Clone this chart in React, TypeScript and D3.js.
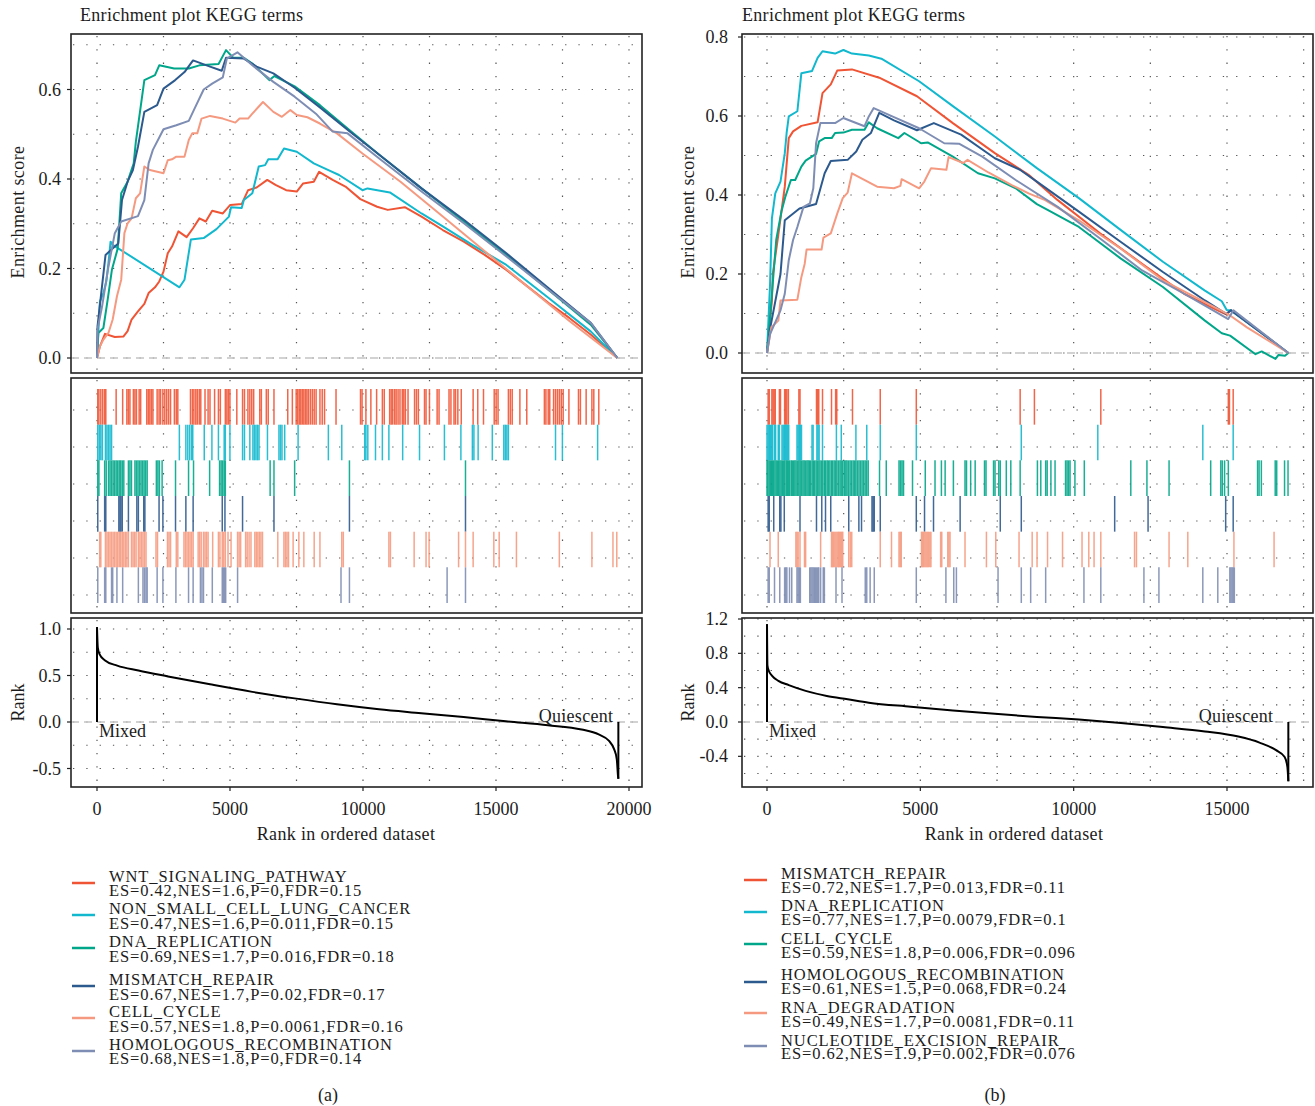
import React from 'react';
import * as d3 from 'd3';

type Pt = [number, number];

// ======================= Panel (a) data =======================
const namesA = ['WNT_SIGNALING_PATHWAY', 'NON_SMALL_CELL_LUNG_CANCER', 'DNA_REPLICATION', 'MISMATCH_REPAIR', 'CELL_CYCLE', 'HOMOLOGOUS_RECOMBINATION'];
const statsA = ['ES=0.42,NES=1.6,P=0,FDR=0.15', 'ES=0.47,NES=1.6,P=0.011,FDR=0.15', 'ES=0.69,NES=1.7,P=0.016,FDR=0.18', 'ES=0.67,NES=1.7,P=0.02,FDR=0.17', 'ES=0.57,NES=1.8,P=0.0061,FDR=0.16', 'ES=0.68,NES=1.8,P=0,FDR=0.14'];
const totalA = 19600;

const esA_wnt: Pt[] = [[0,0],[110,0.026],[300,0.054],[670,0.047],[990,0.048],[1150,0.06],[1300,0.086],[1540,0.104],[1780,0.121],[1940,0.145],[2180,0.158],[2340,0.171],[2500,0.193],[2660,0.234],[2820,0.249],[3060,0.283],[3370,0.27],[3610,0.29],[3850,0.312],[4090,0.305],[4330,0.329],[4730,0.323],[5010,0.342],[5440,0.344],[5680,0.375],[6000,0.381],[6400,0.398],[6710,0.387],[7110,0.375],[7510,0.372],[7750,0.39],[8150,0.394],[8350,0.416],[8860,0.398],[9340,0.383],[9900,0.355],[10530,0.338],[10930,0.331],[11570,0.337],[12200,0.316],[13000,0.286],[13790,0.26],[14590,0.23],[15390,0.197],[16180,0.16],[16980,0.123],[17770,0.089],[18570,0.052],[19560,0]];
const esA_nsclc: Pt[] = [[0,0],[110,0.126],[240,0.145],[350,0.171],[430,0.212],[510,0.26],[590,0.253],[3100,0.158],[3290,0.175],[3530,0.265],[4010,0.268],[4490,0.288],[4960,0.316],[5040,0.337],[5440,0.335],[5520,0.353],[5840,0.368],[6080,0.428],[6320,0.431],[6440,0.444],[6790,0.444],[7030,0.468],[7510,0.461],[8150,0.435],[8700,0.42],[9100,0.409],[9980,0.375],[10170,0.379],[11010,0.37],[12200,0.323],[13000,0.294],[14110,0.253],[15390,0.208],[16980,0.134],[18570,0.059],[19560,0]];
const esA_dna: Pt[] = [[0,0],[50,0.056],[240,0.067],[400,0.13],[560,0.197],[780,0.245],[910,0.368],[1150,0.394],[1380,0.435],[1460,0.483],[1780,0.621],[2180,0.632],[2340,0.654],[2900,0.647],[3450,0.647],[3850,0.654],[4570,0.657],[4850,0.688],[5120,0.671],[5520,0.671],[5840,0.658],[6480,0.621],[6670,0.63],[7430,0.607],[8380,0.565],[9500,0.509],[10610,0.454],[12200,0.379],[13790,0.305],[15390,0.23],[16980,0.152],[18570,0.074],[19560,0]];
const esA_mmr: Pt[] = [[0,0],[20,0.071],[320,0.23],[670,0.249],[800,0.256],[940,0.353],[1150,0.394],[1350,0.42],[1540,0.472],[1780,0.55],[2260,0.565],[2500,0.602],[2940,0.621],[3290,0.639],[3610,0.665],[4250,0.651],[4690,0.642],[4850,0.671],[5520,0.669],[6000,0.651],[6630,0.636],[7430,0.604],[8380,0.56],[9500,0.506],[10610,0.454],[12200,0.379],[13790,0.309],[15390,0.234],[16980,0.156],[18570,0.078],[19560,0]];
const esA_cc: Pt[] = [[0,0],[110,0.026],[240,0.041],[430,0.056],[590,0.086],[750,0.138],[910,0.175],[1030,0.279],[1150,0.301],[1300,0.312],[1460,0.357],[1620,0.368],[1780,0.428],[1990,0.42],[2500,0.413],[2660,0.442],[2820,0.444],[2980,0.45],[3290,0.45],[3450,0.487],[3580,0.502],[3770,0.502],[3930,0.535],[4250,0.541],[4730,0.535],[5200,0.526],[5360,0.535],[5680,0.535],[5840,0.546],[6240,0.572],[6630,0.55],[6950,0.539],[7270,0.554],[7510,0.543],[7910,0.538],[8380,0.524],[9020,0.502],[9980,0.457],[11410,0.394],[13000,0.316],[14590,0.238],[16180,0.16],[17770,0.082],[19560,0]];
const esA_hr: Pt[] = [[0,0],[30,0.067],[190,0.115],[430,0.204],[670,0.279],[910,0.305],[1540,0.317],[1780,0.353],[1940,0.435],[2100,0.465],[2500,0.511],[2980,0.52],[3450,0.53],[3640,0.554],[4010,0.6],[4330,0.613],[4730,0.627],[4880,0.669],[5280,0.683],[5840,0.654],[6630,0.617],[7430,0.584],[8230,0.546],[8860,0.506],[9420,0.502],[10610,0.446],[12200,0.372],[13790,0.301],[15390,0.227],[16980,0.152],[18570,0.078],[19560,0]];

const hitsA_wnt = [29,72,144,216,288,331,720,965,1123,1181,1238,1368,1426,1483,1584,1642,1872,1930,1987,2045,2102,2261,2333,2390,2477,2549,2621,2693,2765,2909,2981,3038,3514,3586,3643,3715,3773,3845,3902,4061,4176,4248,4421,4565,4637,4824,4882,4939,4997,5256,5472,5544,5674,5746,5818,5890,6120,6178,6365,6437,6653,7171,7344,7488,7546,7603,7661,7718,7776,7834,7891,7949,8021,8093,8165,8237,8381,8467,8554,8986,9907,9965,10109,10296,10512,10728,10800,11002,11059,11117,11189,11246,11318,11390,11477,11534,11592,11693,11938,12010,12082,12312,12370,12499,12787,12859,13234,13306,13421,13478,13565,13694,14141,14314,14530,14933,15005,15077,15466,15538,15610,15898,16157,16819,16877,16963,17021,17165,17237,17309,17381,17453,17525,17741,18101,18173,18389,18605,18677,18864];
const hitsA_nsclc = [29,86,144,202,317,374,432,490,547,3096,3341,3413,3485,3557,3600,4032,4320,4565,4781,4824,4997,5472,5544,5746,5861,5918,5976,6034,6091,6408,6840,6898,6955,7056,7560,8698,9202,10066,10109,10181,10469,10728,10973,11491,12125,13061,13680,14112,14170,14328,14861,15293,15350,15408,15466,17237,17496,18821];
const hitsA_dna = [29,72,288,346,432,490,547,605,662,720,778,835,893,950,1008,1181,1238,1296,1426,1483,1541,1598,1656,1714,1771,1829,1886,2232,2290,2347,2448,2952,3442,3629,4234,4608,4666,4723,4781,4824,6509,6653,7430,9490,13853];
const hitsA_mmr = [29,288,331,821,864,902,950,1181,1498,1555,1757,1800,2333,2477,2952,3341,3614,4709,4810,5472,6653,9490,13853];
const hitsA_cc = [101,144,317,374,432,490,547,605,662,720,778,835,893,950,1008,1066,1123,1181,1296,1354,1411,1469,1555,1613,1670,1728,1786,1843,2218,2275,2650,2707,2765,2981,3038,3269,3326,3384,3442,3499,3557,3614,3802,3859,3917,4003,4061,4118,4176,4349,4565,4622,4709,4766,4824,4925,5040,5285,5342,5400,5587,5645,5717,5789,5933,5990,6048,6106,6163,6221,6797,7027,7085,7142,7200,7373,7589,7776,8165,8381,9202,9259,10973,11030,11923,12370,12485,13594,13853,14141,14918,15120,15768,17381,18605,19397,19541];
const hitsA_hr = [29,288,331,547,590,749,965,1555,1728,1786,1843,1886,2261,2477,2966,3442,3614,3888,3946,4003,4334,4709,4752,4795,4838,5285,9173,9490,13162,13853];

const rankA: Pt[] = [[0,1.02],[30,0.8],[95,0.73],[290,0.665],[760,0.606],[1560,0.553],[2670,0.49],[4250,0.405],[5840,0.324],[7430,0.254],[9020,0.19],[10600,0.137],[12190,0.095],[13780,0.053],[15370,0.007],[16950,-0.035],[18220,-0.081],[18860,-0.134],[19250,-0.204],[19440,-0.292],[19540,-0.398],[19590,-0.59],[19600,-0.61]];

// ======================= Panel (b) data =======================
const namesB = ['MISMATCH_REPAIR', 'DNA_REPLICATION', 'CELL_CYCLE', 'HOMOLOGOUS_RECOMBINATION', 'RNA_DEGRADATION', 'NUCLEOTIDE_EXCISION_REPAIR'];
const statsB = ['ES=0.72,NES=1.7,P=0.013,FDR=0.11', 'ES=0.77,NES=1.7,P=0.0079,FDR=0.1', 'ES=0.59,NES=1.8,P=0.006,FDR=0.096', 'ES=0.61,NES=1.5,P=0.068,FDR=0.24', 'ES=0.49,NES=1.7,P=0.0081,FDR=0.11', 'ES=0.62,NES=1.9,P=0.002,FDR=0.076'];
const totalB = 17000;

const esB_mmr: Pt[] = [[0,0],[160,0.133],[190,0.2],[370,0.3],[580,0.421],[710,0.544],[850,0.561],[1120,0.575],[1650,0.584],[1810,0.658],[2080,0.68],[2290,0.715],[2770,0.718],[3660,0.697],[4890,0.65],[6060,0.582],[7430,0.506],[8530,0.451],[9480,0.387],[10860,0.303],[12230,0.226],[13600,0.15],[14830,0.103],[14990,0.097],[15130,0.109],[17000,0]];
const esB_dna: Pt[] = [[0,0],[100,0.175],[160,0.341],[270,0.404],[440,0.434],[580,0.506],[640,0.557],[710,0.599],[990,0.612],[1120,0.708],[1470,0.714],[1650,0.747],[1810,0.764],[2220,0.758],[2490,0.767],[2770,0.758],[3320,0.753],[3730,0.745],[4960,0.688],[6060,0.625],[7430,0.548],[8800,0.468],[10170,0.392],[11540,0.311],[12910,0.231],[14280,0.158],[14830,0.131],[14990,0.109],[15130,0.108],[17000,0]];
const esB_cc: Pt[] = [[0,0],[100,0.091],[300,0.286],[470,0.358],[600,0.396],[780,0.438],[920,0.438],[1120,0.472],[1260,0.487],[1600,0.504],[1700,0.536],[1880,0.544],[2110,0.544],[2220,0.557],[2490,0.558],[2770,0.565],[3180,0.565],[3320,0.584],[3590,0.569],[4280,0.544],[4480,0.557],[5030,0.531],[5240,0.533],[6060,0.497],[6880,0.455],[7430,0.442],[8110,0.417],[8800,0.377],[9210,0.36],[10170,0.319],[11540,0.239],[12910,0.167],[14280,0.082],[14830,0.05],[15100,0.044],[15930,-0.003],[16130,0.004],[16580,-0.015],[16680,-0.005],[16890,-0.007],[17000,0]];
const esB_hr: Pt[] = [[0,0],[100,0.061],[440,0.2],[580,0.336],[1060,0.366],[1600,0.377],[1880,0.455],[2080,0.486],[2630,0.489],[2910,0.51],[3110,0.54],[3390,0.557],[3660,0.608],[4140,0.589],[4890,0.564],[5440,0.582],[6330,0.553],[7430,0.493],[8250,0.464],[8800,0.434],[10170,0.358],[11540,0.281],[12910,0.205],[14280,0.133],[14970,0.099],[15130,0.108],[17000,0]];
const esB_rna: Pt[] = [[0,0],[140,0.065],[370,0.082],[440,0.133],[990,0.135],[1120,0.192],[1230,0.226],[1290,0.262],[1780,0.262],[1840,0.292],[2080,0.303],[2290,0.353],[2470,0.392],[2630,0.406],[2770,0.455],[3590,0.421],[4140,0.417],[4350,0.423],[4390,0.44],[4960,0.417],[5130,0.434],[5350,0.468],[5850,0.464],[5920,0.496],[6400,0.481],[6540,0.489],[7220,0.457],[7980,0.425],[8530,0.404],[9070,0.387],[10170,0.336],[11540,0.264],[12910,0.184],[14280,0.129],[15100,0.095],[15650,0.065],[17000,0]];
const esB_ner: Pt[] = [[0,0],[100,0.048],[440,0.108],[580,0.15],[710,0.235],[850,0.286],[990,0.319],[1190,0.37],[1400,0.379],[1510,0.417],[1600,0.531],[1740,0.582],[2220,0.582],[2490,0.595],[3180,0.574],[3320,0.599],[3480,0.62],[4140,0.597],[4960,0.569],[5780,0.531],[6260,0.53],[7020,0.497],[8110,0.438],[9480,0.37],[10860,0.29],[12230,0.209],[13600,0.15],[14280,0.12],[15040,0.086],[15210,0.108],[17000,0]];

const hitsB_mmr = [37,73,159,196,232,269,404,440,575,612,648,697,1040,1076,1614,1651,1688,1810,2104,2238,2275,2788,3693,4868,8255,8720,10885,15043,15080,15202];
const hitsB_dna = [0,37,73,110,147,183,245,281,367,404,489,526,563,599,636,673,709,978,1015,1052,1088,1125,1468,1504,1627,1663,1700,1810,2263,2422,2899,3253,3693,4868,8292,10787,14211,15202];
const hitsB_cc = [0,30,70,110,150,180,220,260,300,345,380,420,460,500,540,580,625,660,700,740,790,830,870,910,950,1000,1040,1080,1120,1170,1210,1250,1300,1340,1380,1420,1470,1510,1550,1600,1640,1690,1730,1780,1820,1870,1910,1960,2000,2050,2100,2140,2190,2240,2280,2330,2380,2420,2470,2520,2570,2610,2660,2710,2760,2810,2860,2900,2950,3000,3050,3100,3150,3200,3250,3300,3669,3889,4305,4354,4403,4452,4745,5161,5479,5687,5809,6078,6457,6506,6641,6788,7093,7142,7387,7436,7558,7607,7803,7950,8255,8818,8928,9087,9136,9258,9393,9735,9784,9833,9882,10041,10347,11863,12389,13111,14468,14798,14847,14921,15043,15997,16046,16120,16572,16621,16877,16990];
const hitsB_hr = [37,73,220,416,453,563,1076,1614,1786,1908,2079,2666,2996,3082,3424,3461,3498,3693,4868,5137,5430,6298,7607,8292,11337,12426,14957,15202];
const hitsB_rna = [98,367,942,978,1015,1076,1223,1260,1749,2104,2140,2177,2214,2250,2287,2324,2360,2397,2434,2470,2666,2715,2764,3693,4060,4305,4342,4378,5039,5075,5112,5149,5186,5222,5259,5308,5345,5662,5699,5895,5932,5968,6457,7155,7460,8219,8647,8806,9148,9637,10273,10493,10665,10885,11985,12047,13111,13722,15226,16535];
const hitsB_ner = [37,73,245,416,575,612,648,734,807,978,1015,1052,1088,1394,1431,1468,1504,1541,1578,1614,1651,1688,1749,1834,1871,2250,2446,3204,3253,3363,3498,4868,5834,6090,6176,7534,8292,8598,9087,10335,10885,12291,12780,14211,14700,15092,15129,15166,15202,15239];

const rankB: Pt[] = [[0,1.14],[14,0.66],[55,0.6],[160,0.54],[370,0.48],[710,0.43],[1260,0.363],[1950,0.304],[2630,0.265],[3320,0.225],[4690,0.178],[6060,0.134],[7430,0.095],[8800,0.059],[10170,0.028],[11540,-0.012],[12910,-0.059],[14280,-0.11],[15370,-0.17],[16060,-0.24],[16600,-0.328],[16880,-0.407],[16970,-0.525],[17000,-0.69]];

const palette = ['#EF5435', '#12B8CE', '#00A68A', '#2D5A8E', '#F59A80', '#7E8DB3'];

// ======================= Layout =======================
const FONT = "'Liberation Serif', 'Times New Roman', serif";
const TXT = '#1c1c1c';
const FS = 18;
const TOP: [number, number] = [34, 373];
const MID: [number, number] = [378, 613];
const BOT: [number, number] = [618, 787];
const ROWS: [number, number] = [389, 603];

interface Cfg {
  x0: number; x1: number;
  xDom: [number, number]; xRng: [number, number];
  xTicks: number[]; xGridMax: number;
  total: number;
  esDom: [number, number]; esRng: [number, number]; esTicks: number[]; esGrid: number[];
  rkDom: [number, number]; rkRng: [number, number]; rkTicks: number[]; rkGrid: number[];
  es: Pt[][]; hits: number[][]; rank: Pt[];
  names: string[]; stats: string[];
  labRight: number; yTitleX: number; titleX: number; xTitleX: number;
  quiesOffset: number;
  legX: number; legName: number[]; legStat: number[]; legSw: number[];
  tag: string; tagX: number;
}

const cfgA: Cfg = {
  x0: 71, x1: 642, xDom: [0, 20000], xRng: [97, 629], xTicks: [0, 5000, 10000, 15000, 20000], xGridMax: 20000,
  total: totalA,
  esDom: [0, 0.6], esRng: [358, 89.5], esTicks: [0, 0.2, 0.4, 0.6], esGrid: [0, 0.1, 0.2, 0.3, 0.4, 0.5, 0.6, 0.7],
  rkDom: [0, 1], rkRng: [722, 629], rkTicks: [-0.5, 0, 0.5, 1], rkGrid: [-0.5, -0.25, 0, 0.25, 0.5, 0.75, 1],
  es: [esA_wnt, esA_nsclc, esA_dna, esA_mmr, esA_cc, esA_hr],
  hits: [hitsA_wnt, hitsA_nsclc, hitsA_dna, hitsA_mmr, hitsA_cc, hitsA_hr],
  rank: rankA, names: namesA, stats: statsA,
  labRight: 61, yTitleX: 24, titleX: 80, xTitleX: 346, quiesOffset: 5,
  legX: 109, legName: [882, 914, 947, 985, 1017, 1050], legStat: [896, 929, 962, 1000, 1032, 1064], legSw: [883, 915, 948, 986, 1018, 1051],
  tag: '(a)', tagX: 328,
};

const cfgB: Cfg = {
  x0: 742, x1: 1313, xDom: [0, 15000], xRng: [767, 1227], xTicks: [0, 5000, 10000, 15000], xGridMax: 17500,
  total: totalB,
  esDom: [0, 0.8], esRng: [353, 37], esTicks: [0, 0.2, 0.4, 0.6, 0.8], esGrid: [0, 0.1, 0.2, 0.3, 0.4, 0.5, 0.6, 0.7, 0.8],
  rkDom: [0, 1.2], rkRng: [722, 619], rkTicks: [-0.4, 0, 0.4, 0.8, 1.2], rkGrid: [-0.6, -0.4, -0.2, 0, 0.2, 0.4, 0.6, 0.8, 1.0, 1.2],
  es: [esB_mmr, esB_dna, esB_cc, esB_hr, esB_rna, esB_ner],
  hits: [hitsB_mmr, hitsB_dna, hitsB_cc, hitsB_hr, hitsB_rna, hitsB_ner],
  rank: rankB, names: namesB, stats: statsB,
  labRight: 728, yTitleX: 694, titleX: 742, xTitleX: 1014, quiesOffset: 15,
  legX: 781, legName: [879, 911, 944, 980, 1013, 1046], legStat: [893, 925, 958, 994, 1027, 1059], legSw: [880, 912, 944, 982, 1013, 1046],
  tag: '(b)', tagX: 995,
};

const dotted = { stroke: '#555', strokeWidth: 1.2, strokeDasharray: '1.3 12' };
const fmt = (v: number) => (Math.abs(v) < 1e-9 ? '0.0' : v.toFixed(1));

function Panel({ c }: { c: Cfg }) {
  const xs = d3.scaleLinear().domain(c.xDom).range(c.xRng);
  const ey = d3.scaleLinear().domain(c.esDom).range(c.esRng);
  const ry = d3.scaleLinear().domain(c.rkDom).range(c.rkRng);
  const rows = d3.scaleBand<number>().domain(d3.range(6)).range(ROWS);
  const esLine = d3.line<Pt>().x(d => xs(d[0])).y(d => ey(d[1]));
  const rkLine = d3.line<Pt>().x(d => xs(d[0])).y(d => ry(d[1])).curve(d3.curveMonotoneX);
  const xGrid = d3.range(0, c.xGridMax + 1, 2500);
  const midGrid = d3.range(6).map(i => 410 + i * 37);
  const first = c.rank[0];
  const last = c.rank[c.rank.length - 1];
  const w = c.x1 - c.x0;

  return (
    <g fontFamily={FONT} fill={TXT}>
      <text x={c.titleX} y={21} fontSize={FS} letterSpacing={0.3}>Enrichment plot KEGG terms</text>

      {/* grids */}
      {[TOP, MID, BOT].map((p, k) => (
        <g key={'vg' + k}>
          {xGrid.map(v => <line key={v} x1={xs(v)} x2={xs(v)} y1={p[0] + 2} y2={p[1] - 2} {...dotted} />)}
        </g>
      ))}
      {c.esGrid.map(v => <line key={'eg' + v} x1={c.x0 + 2} x2={c.x1 - 2} y1={ey(v)} y2={ey(v)} {...dotted} />)}
      {midGrid.map(y => <line key={'mg' + y} x1={c.x0 + 2} x2={c.x1 - 2} y1={y} y2={y} {...dotted} />)}
      {c.rkGrid.map(v => <line key={'rg' + v} x1={c.x0 + 2} x2={c.x1 - 2} y1={ry(v)} y2={ry(v)} {...dotted} />)}

      {/* zero lines */}
      <line x1={c.x0} x2={c.x1} y1={ey(0)} y2={ey(0)} stroke="#c4c4c4" strokeWidth={1.5} strokeDasharray="8 5" />
      <line x1={c.x0} x2={c.x1} y1={ry(0)} y2={ry(0)} stroke="#c4c4c4" strokeWidth={1.5} strokeDasharray="8 5" />

      {/* ES curves */}
      {c.es.map((s, i) => (
        <path key={'es' + i} d={esLine(s) || ''} fill="none" stroke={palette[i]} strokeWidth={2} strokeLinejoin="round" />
      ))}

      {/* hit ticks */}
      {c.hits.map((h, i) => (
        <g key={'h' + i} stroke={palette[i]} strokeWidth={1.5} strokeOpacity={0.9}>
          {h.map((r, j) => (
            <line key={j} x1={xs(r)} x2={xs(r)} y1={rows(i)!} y2={rows(i)! + rows.bandwidth()} />
          ))}
        </g>
      ))}

      {/* rank metric */}
      <path d={rkLine(c.rank) || ''} fill="none" stroke="#000" strokeWidth={2} />
      <line x1={xs(first[0])} x2={xs(first[0])} y1={ry(0)} y2={ry(first[1])} stroke="#000" strokeWidth={2} />
      <line x1={xs(last[0])} x2={xs(last[0])} y1={ry(0)} y2={ry(last[1])} stroke="#000" strokeWidth={2} />
      <text x={xs(0) + 2} y={737} fontSize={FS}>Mixed</text>
      <text x={xs(c.total) - c.quiesOffset} y={722} fontSize={FS} textAnchor="end" letterSpacing={0.3}>Quiescent</text>

      {/* frames */}
      {[TOP, MID, BOT].map((p, k) => (
        <rect key={'f' + k} x={c.x0} y={p[0]} width={w} height={p[1] - p[0]} fill="none" stroke="#222" strokeWidth={1.6} />
      ))}

      {/* y axes */}
      {c.esTicks.map(v => (
        <g key={'et' + v}>
          <line x1={c.x0 - 4} x2={c.x0} y1={ey(v)} y2={ey(v)} stroke="#222" strokeWidth={1.2} />
          <text x={c.labRight} y={ey(v) + 6} fontSize={FS} textAnchor="end">{fmt(v)}</text>
        </g>
      ))}
      {c.rkTicks.map(v => (
        <g key={'rt' + v}>
          <line x1={c.x0 - 4} x2={c.x0} y1={ry(v)} y2={ry(v)} stroke="#222" strokeWidth={1.2} />
          <text x={c.labRight} y={ry(v) + 6} fontSize={FS} textAnchor="end">{fmt(v)}</text>
        </g>
      ))}
      <text transform={`translate(${c.yTitleX},212) rotate(-90)`} fontSize={FS} textAnchor="middle" letterSpacing={0.4}>Enrichment score</text>
      <text transform={`translate(${c.yTitleX},${(BOT[0] + BOT[1]) / 2}) rotate(-90)`} fontSize={FS} textAnchor="middle">Rank</text>

      {/* x axis */}
      {c.xTicks.map(v => (
        <g key={'xt' + v}>
          <line x1={xs(v)} x2={xs(v)} y1={BOT[1]} y2={BOT[1] + 4} stroke="#222" strokeWidth={1.2} />
          <text x={xs(v)} y={815} fontSize={FS} textAnchor="middle">{v}</text>
        </g>
      ))}
      <text x={c.xTitleX} y={840} fontSize={FS} textAnchor="middle" letterSpacing={0.35}>Rank in ordered dataset</text>

      {/* legend */}
      {c.names.map((n, i) => (
        <g key={'lg' + i}>
          <line x1={c.legX - 37} x2={c.legX - 14} y1={c.legSw[i]} y2={c.legSw[i]} stroke={palette[i]} strokeWidth={2.5} />
          <text x={c.legX} y={c.legName[i]} fontSize={16.5} letterSpacing={0.9}>{n}</text>
          <text x={c.legX} y={c.legStat[i]} fontSize={16.5} letterSpacing={0.9}>{c.stats[i]}</text>
        </g>
      ))}
      <text x={c.tagX} y={1101} fontSize={FS} textAnchor="middle">{c.tag}</text>
    </g>
  );
}

export default function App() {
  return (
    <svg width={1315} height={1106} style={{ position: 'absolute', left: 0, top: 0, background: '#fff' }}>
      <rect x={0} y={0} width={1315} height={1106} fill="#fff" />
      <Panel c={cfgA} />
      <Panel c={cfgB} />
    </svg>
  );
}
